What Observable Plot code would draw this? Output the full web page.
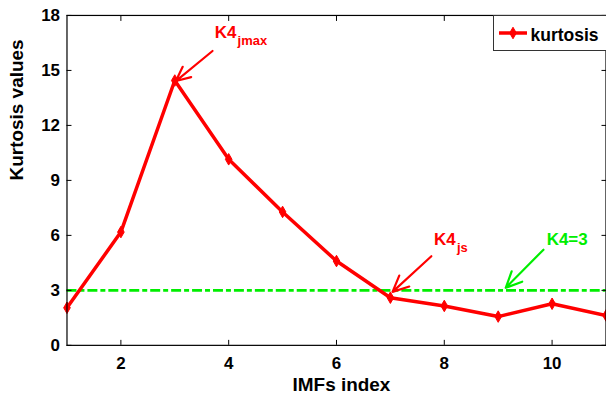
<!DOCTYPE html>
<html><head><meta charset="utf-8">
<script src="https://cdn.jsdelivr.net/npm/d3@7"></script>
<script src="https://cdn.jsdelivr.net/npm/@observablehq/plot@0.6"></script>
<style>
html,body{margin:0;padding:0;background:#fff;overflow:hidden;}
#wrap{position:relative;width:606px;height:396px;overflow:hidden;font-family:"Liberation Sans",Arial,sans-serif;}
#legend{position:absolute;left:493px;top:15px;}
</style></head><body><div id="wrap"></div>
<script>
const imfIndex = [1, 2, 3, 4, 5, 6, 7, 8, 9, 10, 11];
const kurtosis = [2.05, 6.18, 14.45, 10.15, 7.28, 4.6, 2.6, 2.15, 1.57, 2.27, 1.63];
const threshold = [3];
const xTicks = [2, 4, 6, 8, 10];
const yTicks = [0, 3, 6, 9, 12, 15, 18];
const seriesName = "kurtosis";
const xLabel = "IMFs index";
const yLabel = "Kurtosis values";
// annotations
const annLabels = ["K4", "K4", "K4=3"];
const annSubs = ["jmax", "js", ""];
const annColors = ["#ff0000", "#ff0000", "#00ee00"];
const annTextX = [3.74, 7.81, 9.90];
const annTextY = [16.75, 5.49, 5.49];
const arrowX1 = [3.70, 7.76, 9.84];
const arrowY1 = [16.06, 4.86, 5.22];
const arrowX2 = [3.02, 7.04, 9.14];
const arrowY2 = [14.42, 2.92, 3.14];

const data = imfIndex.map((x, i) => ({x, y: kurtosis[i]}));
const ann = annLabels.map((t, i) => ({
  t, sub: annSubs[i], c: annColors[i], tx: annTextX[i], ty: annTextY[i],
  x1: arrowX1[i], y1: arrowY1[i], x2: arrowX2[i], y2: arrowY2[i]
}));

const chart = Plot.plot({
  width: 608, height: 396,
  marginLeft: 66.7, marginRight: 0.5, marginTop: 15, marginBottom: 50,
  style: {fontFamily: "'Liberation Sans', Arial, sans-serif", fontWeight: "bold", fontSize: "17px", background: "#fff", color: "#000", overflow: "visible"},
  x: {domain: [1, 11]},
  y: {domain: [0, 18]},
  color: {type: "identity"},
  marks: [
    Plot.ruleY(threshold, {stroke: "#00ee00", strokeWidth: 2.8, strokeDasharray: "10,3,5,3"}),
    Plot.line(data, {x: "x", y: "y", stroke: "#ff0000", strokeWidth: 3.5}),
    Plot.dot(data, {x: "x", y: "y", symbol: "diamond", r: 3.5, fill: "#ff0000", stroke: "#ff0000", strokeWidth: 1}),
    Plot.arrow(ann, {x1: "x1", y1: "y1", x2: "x2", y2: "y2", stroke: "c", strokeWidth: 2.2, headLength: 12, headAngle: 50}),
    Plot.text(ann, {x: "tx", y: "ty", text: "t", fill: "c", textAnchor: "start", lineAnchor: "bottom", fontSize: 17}),
    Plot.text(ann, {x: "tx", y: "ty", text: "sub", fill: "c", textAnchor: "start", lineAnchor: "bottom", fontSize: 13, dx: 23, dy: 7}),
    Plot.frame({stroke: "#000", strokeWidth: 1.2}),
    Plot.axisX({ticks: xTicks, tickSize: -5, tickPadding: 17, label: null, anchor: "bottom", fontSize: 17}),
    Plot.axisX({ticks: xTicks, tickSize: -5, anchor: "top", tickFormat: () => "", label: null}),
    Plot.axisY({ticks: yTicks, tickSize: -5, tickPadding: 12, label: null, anchor: "left", fontSize: 17}),
    Plot.axisY({ticks: yTicks, tickSize: -5, anchor: "right", tickFormat: () => "", label: null}),
    Plot.text([xLabel], {frameAnchor: "bottom", dy: 46, dx: 5, lineAnchor: "bottom", fontSize: 19, text: d => d}),
    Plot.text([yLabel], {frameAnchor: "left", rotate: -90, dx: -50, lineAnchor: "middle", fontSize: 19, text: d => d})
  ]
});
const wrap = document.getElementById("wrap");
wrap.appendChild(chart);

// legend
const leg = document.createElementNS("http://www.w3.org/2000/svg", "svg");
leg.setAttribute("id", "legend");
leg.setAttribute("width", "130");
leg.setAttribute("height", "36");
leg.innerHTML = `
  <rect x="0.5" y="0.5" width="128" height="35" fill="#fff" stroke="#333" stroke-width="1"/>
  <line x1="6" x2="34" y1="18" y2="18" stroke="#ff0000" stroke-width="3.5"/>
  <path d="${d3.symbol(d3.symbolDiamond, 38.5)()}" transform="translate(20,18)" fill="#ff0000" stroke="#ff0000"/>
  <text x="37.5" y="26" font-family="'Liberation Sans', Arial, sans-serif" font-weight="bold" font-size="17.5" fill="#000">${seriesName}</text>`;
wrap.appendChild(leg);
</script>
</body></html>
